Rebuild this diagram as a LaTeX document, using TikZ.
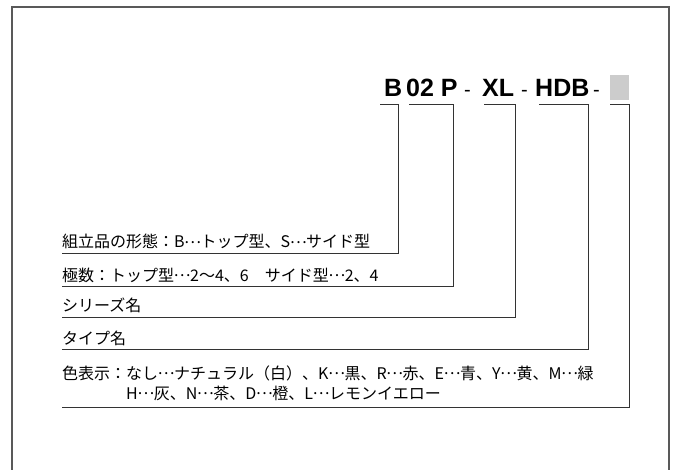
\documentclass[tikz,border=0pt]{standalone}
\usepackage{fontspec}
\setmainfont{Noto Sans CJK JP}
\newfontfamily\titlefont{Liberation Sans}
\usetikzlibrary{positioning}
\newcommand\mdots{\makebox[1em]{\raisebox{0.3em}{…}}}

\begin{document}
\begin{tikzpicture}[x=1pt,y=-1pt]
    \tikzstyle{code}=[font=\titlefont\bfseries\fontsize{25}{25}\selectfont,inner sep=0pt,anchor=base west]
    \tikzstyle{sepmark}=[font=\titlefont\fontsize{20}{20}\selectfont,inner sep=0pt,anchor=base west]
    \tikzstyle{desc}=[font=\fontsize{16}{20}\selectfont,inner sep=0pt,anchor=base west]
    \tikzstyle{lead}=[draw=black!80,line width=0.9pt]
    \useasboundingbox (0,0) rectangle (677,470);
    \draw[black!65,line width=1.6pt] (12,470) -- (12,7) -- (669,7) -- (669,470);
    % model code
    \node[code] (b) at (384,97) {B};
    \node[code] (pol) at (406,97) {02 P};
    \node[sepmark] (m1) at (464,97) {-};
    \node[code] (xl) at (482,97) {XL};
    \node[sepmark] (m2) at (521,97) {-};
    \node[code] (hdb) at (535,97) {HDB};
    \node[sepmark] (m3) at (593,97) {-};
    \node[fill=black!20,minimum width=19pt,minimum height=25pt,inner sep=0pt,anchor=north west] (col) at (610,75) {};
    % explanations
    \node[desc] (form) at (62,248) {組立品の形態：B\mdots トップ型、S\mdots サイド型};
    \node[desc] (poles) at (62,281) {極数：トップ型\mdots 2〜4、6　サイド型\mdots 2、4};
    \node[desc] (series) at (62,312) {シリーズ名};
    \node[desc] (type) at (62,344) {タイプ名};
    \node[desc] (color) at (62,379) {色表示：なし\mdots ナチュラル（白）、K\mdots 黒、R\mdots 赤、E\mdots 青、Y\mdots 黄、M\mdots 緑};
    \node[desc] (color2) at (62,399) {\hspace*{4em}H\mdots 灰、N\mdots 茶、D\mdots 橙、L\mdots レモンイエロー};
    % leaders
    \coordinate (k1) at (380,104); \coordinate (k1e) at (398,104);
    \coordinate (k2) at (409,104); \coordinate (k2e) at (453,104);
    \coordinate (k3) at (484,104); \coordinate (k3e) at (515,104);
    \coordinate (k4) at (539,104); \coordinate (k4e) at (588,104);
    \coordinate (k5) at (610,104); \coordinate (k5e) at (629,104);
    \draw[lead] (k1) -- (k1e) |- ([yshift=-5pt]form.base west);
    \draw[lead] (k2) -- (k2e) |- ([yshift=-5pt]poles.base west);
    \draw[lead] (k3) -- (k3e) |- ([yshift=-5pt]series.base west);
    \draw[lead] (k4) -- (k4e) |- ([yshift=-5pt]type.base west);
    \draw[lead] (k5) -- (k5e) |- ([yshift=-8pt]color2.base west);
\end{tikzpicture}
\end{document}
